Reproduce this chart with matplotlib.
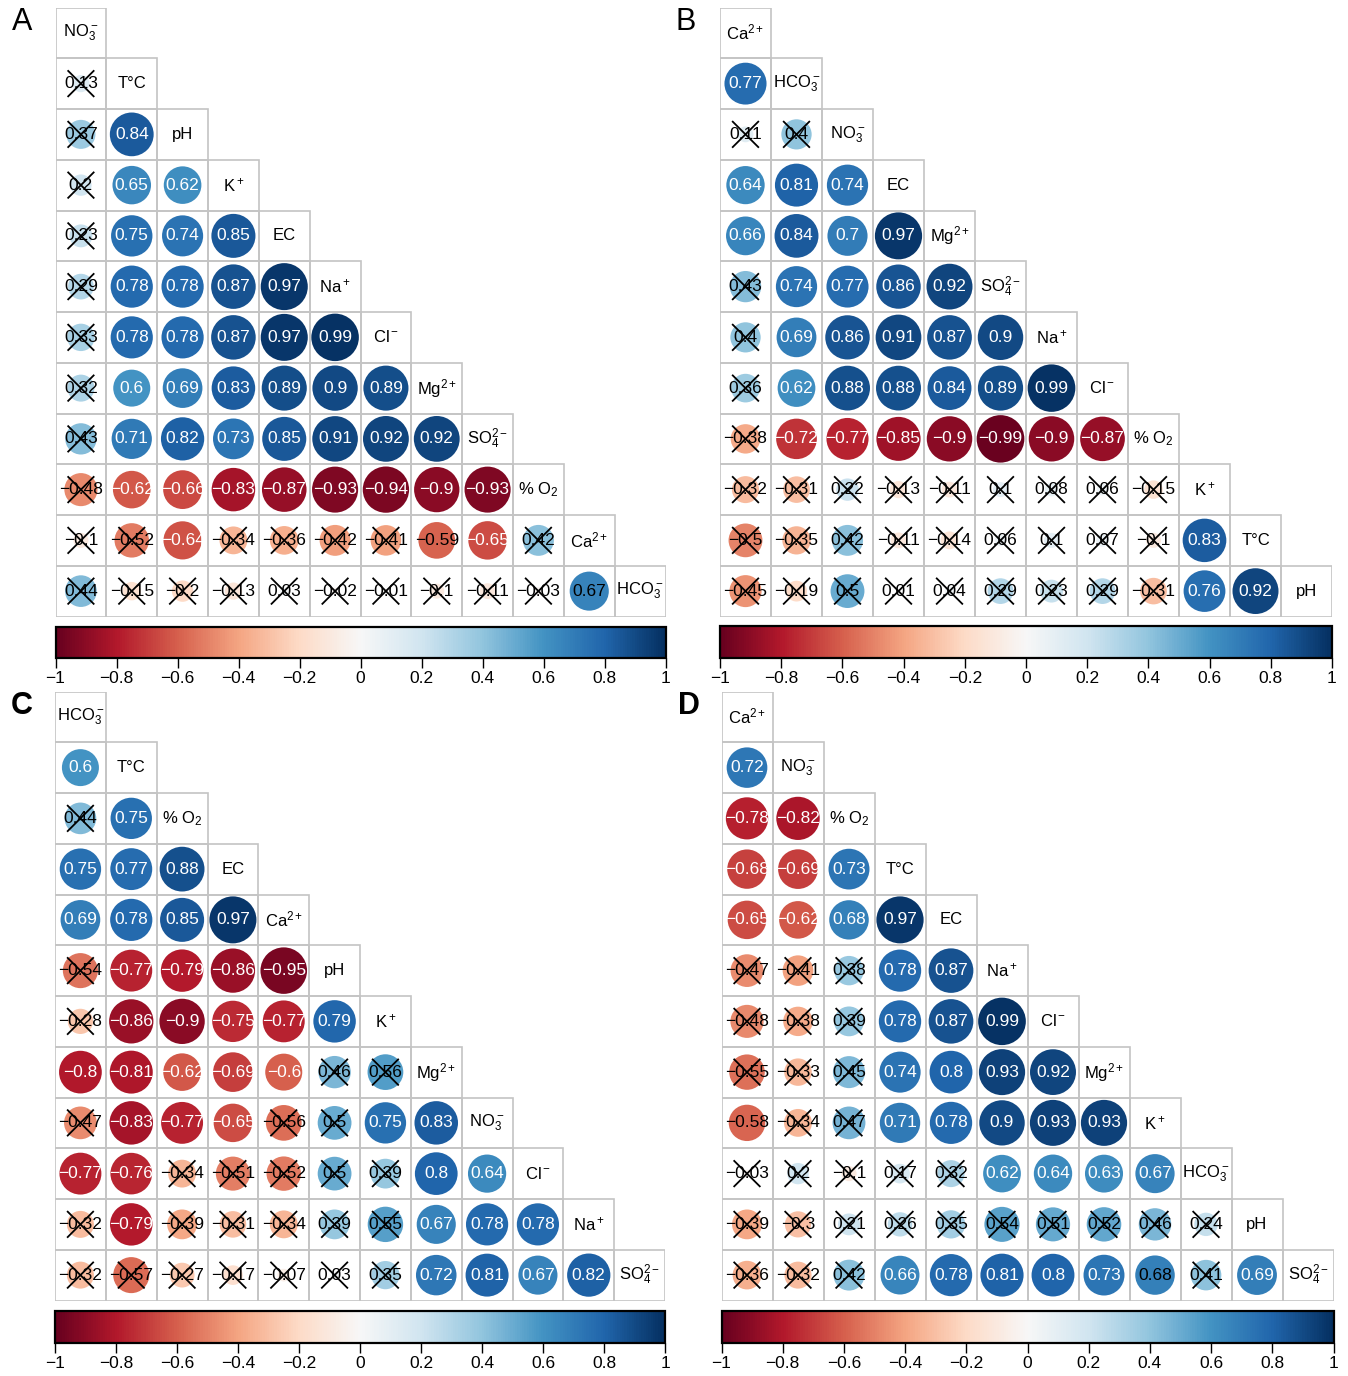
import numpy as np
import matplotlib
matplotlib.use('Agg')
import matplotlib.pyplot as plt
from matplotlib import font_manager
from matplotlib.patches import Circle, Rectangle
from matplotlib.cm import ScalarMappable
from matplotlib.colors import Normalize

# a narrow sans for the numbers, if there is one
names_installed = {f.name for f in font_manager.fontManager.ttflist}
num_font = 'Liberation Sans Narrow' if 'Liberation Sans Narrow' in names_installed else 'Liberation Sans'

plt.rcParams['font.family'] = ['Liberation Sans', 'DejaVu Sans']
plt.rcParams['mathtext.fontset'] = 'custom'
plt.rcParams['mathtext.rm'] = 'Liberation Sans'
plt.rcParams['mathtext.it'] = 'Liberation Sans:italic'
plt.rcParams['mathtext.bf'] = 'Liberation Sans:bold'

NO3 = r'NO$_3^-$'
HCO3 = r'HCO$_3^-$'
SO4 = r'SO$_4^{2-}$'
CA = r'Ca$^{2+}$'
MG = r'Mg$^{2+}$'
NA = r'Na$^+$'
K = r'K$^+$'
CL = r'Cl$^-$'
O2 = r'% O$_2$'
T = 'T°C'
PH = 'pH'
EC = 'EC'

# ---- panel A ----
vars_a = [NO3, T, PH, K, EC, NA, CL, MG, SO4, O2, CA, HCO3]
corr_a = [
    [0.13],
    [0.37, 0.84],
    [0.2, 0.65, 0.62],
    [0.23, 0.75, 0.74, 0.85],
    [0.29, 0.78, 0.78, 0.87, 0.97],
    [0.33, 0.78, 0.78, 0.87, 0.97, 0.99],
    [0.32, 0.6, 0.69, 0.83, 0.89, 0.9, 0.89],
    [0.43, 0.71, 0.82, 0.73, 0.85, 0.91, 0.92, 0.92],
    [-0.48, -0.62, -0.66, -0.83, -0.87, -0.93, -0.94, -0.9, -0.93],
    [-0.1, -0.52, -0.64, -0.34, -0.36, -0.42, -0.41, -0.59, -0.65, 0.42],
    [0.44, -0.15, -0.2, -0.13, 0.03, -0.02, -0.01, -0.1, -0.11, -0.03, 0.67],
]
# x = not significant (crossed), b = significant but black label
sig_a = ['x', 'x.', 'x..', 'x...', 'x....', 'x.....', 'x......', 'x.......',
         'x........', 'xx.xxxxb.x', 'xxxxxxxxxxb']

# ---- panel B ----
vars_b = [CA, HCO3, NO3, EC, MG, SO4, NA, CL, O2, K, T, PH]
corr_b = [
    [0.77],
    [0.11, 0.4],
    [0.64, 0.81, 0.74],
    [0.66, 0.84, 0.7, 0.97],
    [0.43, 0.74, 0.77, 0.86, 0.92],
    [0.4, 0.69, 0.86, 0.91, 0.87, 0.9],
    [0.36, 0.62, 0.88, 0.88, 0.84, 0.89, 0.99],
    [-0.38, -0.72, -0.77, -0.85, -0.9, -0.99, -0.9, -0.87],
    [-0.32, -0.31, 0.22, -0.13, -0.11, 0.1, 0.08, 0.06, -0.15],
    [-0.5, -0.35, 0.42, -0.11, -0.14, 0.06, 0.1, 0.07, -0.1, 0.83],
    [-0.45, -0.19, 0.5, 0.01, 0.04, 0.29, 0.23, 0.29, -0.31, 0.76, 0.92],
]
sig_b = ['.', 'xx', '...', '....', 'x....', 'x.....', 'x......', 'x.......',
         'xxxxxxxxx', 'xxxxxxxxx.', 'xxxxxxxxx..']

# ---- panel C ----
vars_c = [HCO3, T, O2, EC, CA, PH, K, MG, NO3, CL, NA, SO4]
corr_c = [
    [0.6],
    [0.44, 0.75],
    [0.75, 0.77, 0.88],
    [0.69, 0.78, 0.85, 0.97],
    [-0.54, -0.77, -0.79, -0.86, -0.95],
    [-0.28, -0.86, -0.9, -0.75, -0.77, 0.79],
    [-0.8, -0.81, -0.62, -0.69, -0.6, 0.46, 0.56],
    [-0.47, -0.83, -0.77, -0.65, -0.56, 0.5, 0.75, 0.83],
    [-0.77, -0.76, -0.34, -0.51, -0.52, 0.5, 0.39, 0.8, 0.64],
    [-0.32, -0.79, -0.39, -0.31, -0.34, 0.39, 0.55, 0.67, 0.78, 0.78],
    [-0.32, -0.57, -0.27, -0.17, -0.07, 0.03, 0.35, 0.72, 0.81, 0.67, 0.82],
]
sig_c = ['.', 'x.', '...', '....', 'x....', 'x.....', '.....xx', 'x...xx..',
         '..xxxxx..', 'x.xxxxx...', 'xxxxxxx....']

# ---- panel D ----
vars_d = [CA, NO3, O2, T, EC, NA, CL, MG, K, HCO3, PH, SO4]
corr_d = [
    [0.72],
    [-0.78, -0.82],
    [-0.68, -0.69, 0.73],
    [-0.65, -0.62, 0.68, 0.97],
    [-0.47, -0.41, 0.38, 0.78, 0.87],
    [-0.48, -0.38, 0.39, 0.78, 0.87, 0.99],
    [-0.55, -0.33, 0.45, 0.74, 0.8, 0.93, 0.92],
    [-0.58, -0.34, 0.47, 0.71, 0.78, 0.9, 0.93, 0.93],
    [-0.03, 0.2, -0.1, 0.17, 0.32, 0.62, 0.64, 0.63, 0.67],
    [-0.39, -0.3, 0.21, 0.26, 0.35, 0.54, 0.51, 0.52, 0.46, 0.24],
    [-0.36, -0.32, 0.42, 0.66, 0.78, 0.81, 0.8, 0.73, 0.68, 0.41, 0.69],
]
sig_d = ['.', '..', '...', '....', 'xxx..', 'xxx...', 'xxx....', 'bxx.....',
         'xxxxx....', 'xxxxxxxxxx', 'xxx.....bx.']

colorbar_ticks = [-1, -0.8, -0.6, -0.4, -0.2, 0, 0.2, 0.4, 0.6, 0.8, 1]

W, H = 1348, 1376
fig = plt.figure(figsize=(W / 100, H / 100), dpi=100)
cmap = plt.get_cmap('RdBu')
norm = Normalize(-1, 1)
num_size = 13.5 if num_font.endswith('Narrow') else 12.5


def fmt(v):
    s = f'{v:.2f}'.rstrip('0').rstrip('.')
    return s.replace('-', '\u2212')


def px_axes(x, y, w, h):
    return fig.add_axes([x / W, 1 - (y + h) / H, w / W, h / H])


def draw_panel(grid, cbar, letter, bold, names, corr, sig):
    ax = px_axes(*grid)
    n = len(names)
    ax.set_xlim(0, n)
    ax.set_ylim(n, 0)
    ax.axis('off')
    for i in range(n):
        for j in range(i + 1):
            ax.add_patch(Rectangle((j, i), 1, 1, fill=False, ec='#c4c4c4', lw=1.2))
        ax.text(i + 0.5, i + 0.5, names[i], ha='center', va='center', fontsize=12)
    for i, row in enumerate(corr, start=1):
        for j, v in enumerate(row):
            flag = sig[i - 1][j]
            cx, cy = j + 0.5, i + 0.5
            r = 0.47 * np.sqrt(abs(v))
            ax.add_patch(Circle((cx, cy), r, color=cmap(norm(v)), lw=0))
            tc = 'white' if flag == '.' else 'black'
            ax.text(cx, cy, fmt(v), ha='center', va='center', fontsize=num_size,
                    color=tc, family=[num_font, 'DejaVu Sans'])
            if flag == 'x':
                d = 0.25
                ax.plot([cx - d, cx + d], [cy - d, cy + d], color='black', lw=1.3)
                ax.plot([cx - d, cx + d], [cy + d, cy - d], color='black', lw=1.3)
    cax = px_axes(*cbar)
    cb = fig.colorbar(ScalarMappable(norm=norm, cmap=cmap), cax=cax, orientation='horizontal')
    cb.set_ticks(colorbar_ticks)
    cb.set_ticklabels([fmt(t) for t in colorbar_ticks])
    cb.outline.set_linewidth(1.6)
    cax.tick_params(axis='x', length=7, width=1, labelsize=12.5, pad=2)
    fig.text((grid[0] - 44) / W, 1 - (grid[1] - 1) / H, letter, ha='left', va='top',
             fontsize=22, fontweight='bold' if bold else 'normal')


draw_panel((55.5, 7.5, 610, 609), (55.5, 627, 610, 31), 'A', False, vars_a, corr_a, sig_a)
draw_panel((720, 7.5, 612, 609), (720, 626, 612, 32), 'B', False, vars_b, corr_b, sig_b)
draw_panel((55, 691.5, 610, 609), (55, 1311, 610, 32), 'C', True, vars_c, corr_c, sig_c)
draw_panel((721.5, 691.5, 612, 609), (721.5, 1311, 612, 32), 'D', True, vars_d, corr_d, sig_d)

fig.savefig('out.png', dpi=100)
